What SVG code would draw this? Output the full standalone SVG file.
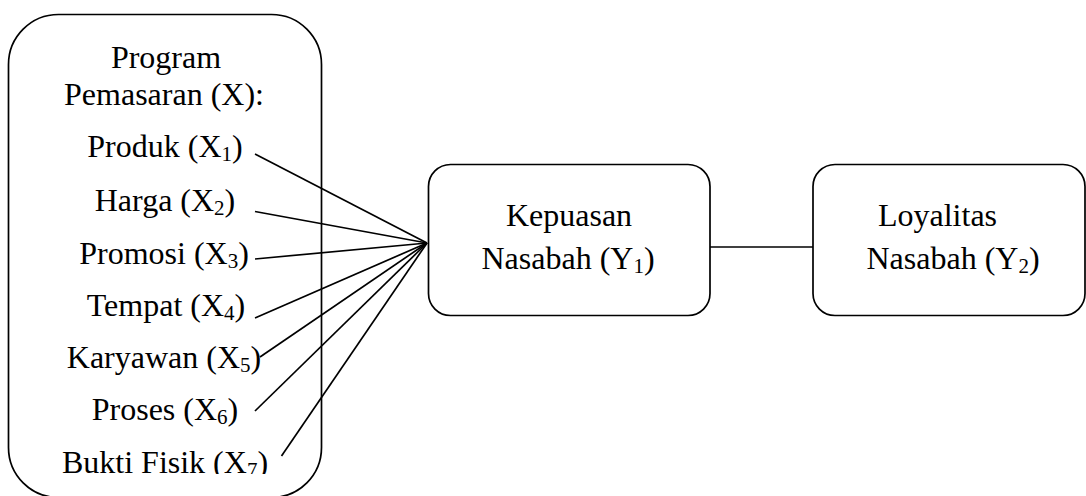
<svg xmlns="http://www.w3.org/2000/svg" width="1086" height="496" viewBox="0 0 1086 496">
<style>
.box{fill:none;stroke:#000;stroke-width:1.7}
.t{font-family:"Liberation Serif","Times New Roman",serif;font-size:32px;fill:#000;text-anchor:middle}
.s{font-size:21px}
.c{stroke:#000;stroke-width:1.7;fill:none}
</style>
<defs>
<clipPath id="clipX"><rect x="0" y="0" width="400" height="474"/></clipPath>
</defs>
<rect width="1086" height="496" fill="#fff"/>
<g id="node-program">
<rect class="box" x="8.5" y="14.5" width="313" height="483" rx="50" ry="50"/>
<g clip-path="url(#clipX)">
<text class="t" x="166" y="68">Program</text>
<text class="t" x="164" y="105">Pemasaran (X):</text>
<text class="t" x="165" y="157">Produk (X<tspan class="s" dy="4">1</tspan><tspan dy="-4">)</tspan></text>
<text class="t" x="165" y="210.5">Harga (X<tspan class="s" dy="4">2</tspan><tspan dy="-4">)</tspan></text>
<text class="t" x="164" y="263.5">Promosi (X<tspan class="s" dy="4">3</tspan><tspan dy="-4">)</tspan></text>
<text class="t" x="166" y="316">Tempat (X<tspan class="s" dy="4">4</tspan><tspan dy="-4">)</tspan></text>
<text class="t" x="164" y="368">Karyawan (X<tspan class="s" dy="4">5</tspan><tspan dy="-4">)</tspan></text>
<text class="t" x="165" y="420">Proses (X<tspan class="s" dy="4">6</tspan><tspan dy="-4">)</tspan></text>
<text class="t" x="165" y="473">Bukti Fisik (X<tspan class="s" dy="4">7</tspan><tspan dy="-4">)</tspan></text>
</g>
</g>
<g id="node-kepuasan">
<rect class="box" x="428.5" y="164.5" width="281.5" height="151" rx="22" ry="22"/>
<text class="t" x="569" y="226">Kepuasan</text>
<text class="t" x="568" y="269">Nasabah (Y<tspan class="s" dy="4">1</tspan><tspan dy="-4">)</tspan></text>
</g>
<g id="node-loyalitas">
<rect class="box" x="813" y="164.5" width="272" height="151" rx="22" ry="22"/>
<text class="t" x="937.5" y="226">Loyalitas</text>
<text class="t" x="953" y="269">Nasabah (Y<tspan class="s" dy="4">2</tspan><tspan dy="-4">)</tspan></text>
</g>
<g id="connectors">
<line class="c" x1="255" y1="154" x2="427" y2="243"/>
<line class="c" x1="255" y1="211.5" x2="427" y2="243"/>
<line class="c" x1="255" y1="259" x2="427" y2="243"/>
<line class="c" x1="255" y1="318" x2="427" y2="243"/>
<line class="c" x1="260" y1="357" x2="427" y2="243"/>
<line class="c" x1="255" y1="411" x2="427" y2="243"/>
<line class="c" x1="281.5" y1="456" x2="427" y2="243"/>
<line class="c" x1="710" y1="247" x2="813" y2="247"/>
</g>
</svg>
